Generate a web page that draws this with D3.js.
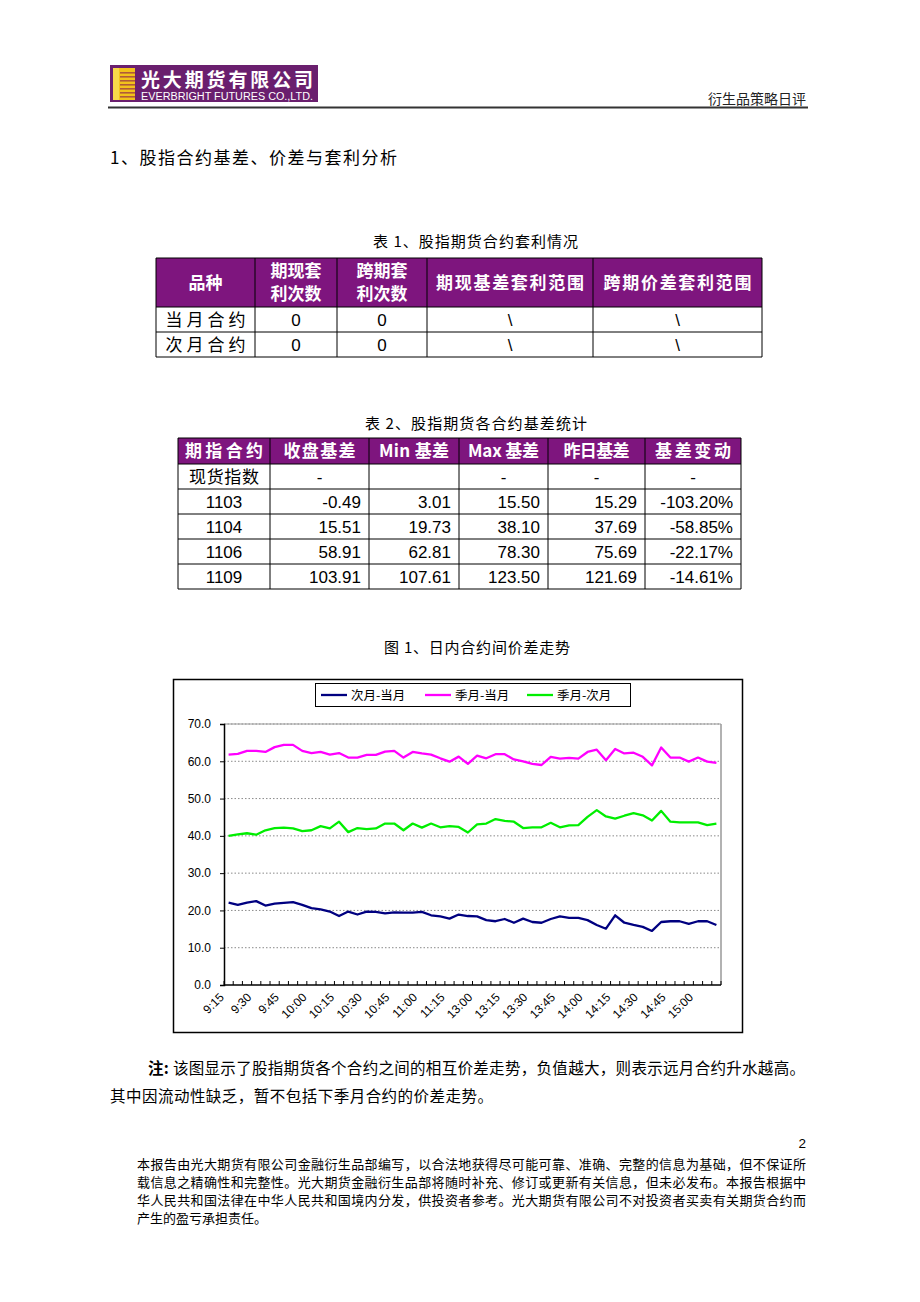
<!DOCTYPE html>
<html><head><meta charset="utf-8">
<script src="https://cdn.jsdelivr.net/npm/d3@7"></script>
<style>
html,body{margin:0;padding:0;background:#fff;}
svg text{font-family:"Noto Sans CJK SC","Liberation Sans",sans-serif;}
</style></head><body>
<svg id="page" width="920" height="1302"></svg>
<script>
// ---------- DATA ----------
const times = ["9:15","9:20","9:25","9:30","9:35","9:40","9:45","9:50","9:55",
  "10:00","10:05","10:10","10:15","10:20","10:25","10:30","10:35","10:40","10:45","10:50","10:55",
  "11:00","11:05","11:10","11:15","11:20","11:25",
  "13:00","13:05","13:10","13:15","13:20","13:25","13:30","13:35","13:40","13:45","13:50","13:55",
  "14:00","14:05","14:10","14:15","14:20","14:25","14:30","14:35","14:40","14:45","14:50","14:55",
  "15:00","15:05","15:10"];
const xTickLabels = ["9:15","9:30","9:45","10:00","10:15","10:30","10:45","11:00","11:15",
  "13:00","13:15","13:30","13:45","14:00","14:15","14:30","14:45","15:00"];
const seriesNames = ["次月-当月","季月-当月","季月-次月"];
const seriesColors = ["#000080","#ff00ff","#00ee00"];
const nextMinusCurrent = [22.1,21.5,22.1,22.5,21.3,21.8,22.0,22.2,21.5,20.6,
  20.3,19.7,18.5,19.7,18.9,19.7,19.6,19.2,19.5,19.4,
  19.4,19.6,18.7,18.4,17.8,18.9,18.5,
  18.4,17.4,17.1,17.7,16.7,17.8,16.9,16.7,17.7,18.4,
  18.0,18.0,17.4,16.1,15.1,18.7,16.7,16.1,15.6,14.5,
  16.9,17.1,17.1,16.4,17.1,17.1,16.1];
const quarterMinusCurrent = [61.8,62.0,62.8,62.8,62.5,63.8,64.4,64.4,62.8,62.2,
  62.5,61.8,62.2,61.0,61.0,61.7,61.7,62.6,62.8,61.0,
  62.5,62.1,61.8,60.8,59.9,61.25,59.3,
  61.5,60.8,61.9,61.9,60.5,60.0,59.3,59.0,61.2,
  60.7,60.9,60.7,62.5,63.1,60.3,63.3,62.1,62.3,61.2,
  58.9,63.7,61.0,61.0,59.9,61.0,59.9,59.6];
const quarterMinusNext = [40.0,40.4,40.7,40.3,41.5,42.1,42.2,42.0,41.25,41.5,
  42.6,42.0,43.8,41.0,42.1,41.8,42.0,43.3,43.3,41.5,
  43.3,42.2,43.3,42.3,42.6,42.4,40.9,
  43.1,43.3,44.5,44.0,43.8,42.1,42.3,42.3,43.5,
  42.3,42.8,42.9,45.1,46.9,45.2,44.6,45.4,46.1,45.5,
  44.1,46.7,43.8,43.6,43.6,43.6,42.9,43.3];
const yTicks = [0,10,20,30,40,50,60,70];

const table1Header = ["品种","期现套|利次数","跨期套|利次数","期现基差套利范围","跨期价差套利范围"];
const table1Rows = [["当月合约","0","0","\\","\\"],["次月合约","0","0","\\","\\"]];
const table2Header = ["期指合约","收盘基差","Min 基差","Max 基差","昨日基差","基差变动"];
const table2Rows = [
  ["现货指数","-","","-","-","-"],
  ["1103","-0.49","3.01","15.50","15.29","-103.20%"],
  ["1104","15.51","19.73","38.10","37.69","-58.85%"],
  ["1106","58.91","62.81","78.30","75.69","-22.17%"],
  ["1109","103.91","107.61","123.50","121.69","-14.61%"]];

const footerLines = [
  "本报告由光大期货有限公司金融衍生品部编写，以合法地获得尽可能可靠、准确、完整的信息为基础，但不保证所",
  "载信息之精确性和完整性。光大期货金融衍生品部将随时补充、修订或更新有关信息，但未必发布。本报告根据中",
  "华人民共和国法律在中华人民共和国境内分发，供投资者参考。光大期货有限公司不对投资者买卖有关期货合约而",
  "产生的盈亏承担责任。"];

// ---------- DRAW ----------
const svg = d3.select("#page");
const PURPLE = "#7e157e";
const NUMFONT = "'Liberation Sans',Arial,sans-serif";

// Header logo
const logo = svg.append("g");
logo.append("rect").attr("x",110).attr("y",65).attr("width",208).attr("height",37).attr("fill","#6a1f6e");
logo.append("rect").attr("x",113).attr("y",68).attr("width",22).attr("height",32).attr("fill","#f2c21b");
[0,1,2,3,4,5,6].forEach(i=>{
  logo.append("rect").attr("x",120).attr("y",72+i*4).attr("width",15).attr("height",1.6).attr("fill","#b05a3a");
});
logo.append("rect").attr("x",113).attr("y",68).attr("width",6).attr("height",32).attr("fill","#f7d84a");
logo.append("text").attr("x",141).attr("y",87).attr("fill","#fff").attr("font-size",19).attr("font-weight","bold")
  .attr("textLength",172).attr("lengthAdjust","spacing").text("光大期货有限公司");
logo.append("text").attr("x",141).attr("y",100).attr("fill","#fff").attr("font-size",10)
  .style("font-family",NUMFONT).attr("textLength",172).attr("lengthAdjust","spacingAndGlyphs")
  .text("EVERBRIGHT FUTURES CO.,LTD.");
svg.append("text").attr("x",806).attr("y",104).attr("text-anchor","end").attr("font-size",14).attr("fill","#222")
  .text("衍生品策略日评");
svg.append("line").attr("x1",108).attr("x2",808).attr("y1",107.5).attr("y2",107.5).attr("stroke","#333").attr("stroke-width",2);

// Section title
svg.append("text").attr("x",110).attr("y",164).attr("font-size",17).attr("fill","#000")
  .attr("textLength",287).attr("lengthAdjust","spacing").text("1、股指合约基差、价差与套利分析");

// Generic table
function drawTable(cols, rowsY, header, body, opt){
  const g = svg.append("g");
  g.append("rect").attr("x",cols[0]).attr("y",rowsY[0]).attr("width",cols[cols.length-1]-cols[0])
    .attr("height",rowsY[1]-rowsY[0]).attr("fill",PURPLE);
  header.forEach((h,i)=>{
    const cx=(cols[i]+cols[i+1])/2, cy=(rowsY[0]+rowsY[1])/2;
    const lines=h.split("|");
    lines.forEach((ln,j)=>{
      const t=g.append("text").attr("x",cx).attr("y",cy+(j-(lines.length-1)/2)*opt.headLine+opt.headSize*0.36)
        .attr("text-anchor","middle").attr("fill","#fff").attr("font-size",opt.headSize).attr("font-weight","bold")
        .text(ln);
      if(opt.headLen && opt.headLen[i]) t.attr("textLength",opt.headLen[i]).attr("lengthAdjust","spacing");
    });
  });
  body.forEach((row,r)=>{
    const y0=rowsY[r+1], y1=rowsY[r+2], cy=(y0+y1)/2;
    row.forEach((v,i)=>{
      if(v==="") return;
      const isNum = /^[-0-9.%\\]+$/.test(v);
      let anchor="middle", x=(cols[i]+cols[i+1])/2;
      if(isNum && opt.rightAlign && i>0 && v!=="-"){anchor="end"; x=cols[i+1]-8;}
      const t=g.append("text").attr("x",x).attr("y",cy+opt.bodySize*0.36).attr("text-anchor",anchor)
        .attr("font-size",isNum?opt.numSize:opt.bodySize).attr("fill","#000").text(v);
      if(isNum) t.style("font-family",NUMFONT);
      if(!isNum && opt.bodyLen) t.attr("textLength",opt.bodyLen).attr("lengthAdjust","spacing");
    });
  });
  rowsY.forEach(y=>g.append("line").attr("x1",cols[0]).attr("x2",cols[cols.length-1]).attr("y1",y).attr("y2",y)
    .attr("stroke","#000").attr("stroke-width",1));
  cols.forEach(x=>g.append("line").attr("x1",x).attr("x2",x).attr("y1",rowsY[0]).attr("y2",rowsY[rowsY.length-1])
    .attr("stroke","#000").attr("stroke-width",1));
}

// Table 1
svg.append("text").attr("x",475.5).attr("y",247).attr("text-anchor","middle").attr("font-size",15)
  .attr("textLength",205).attr("lengthAdjust","spacing").text("表 1、股指期货合约套利情况");
drawTable([156,255,337,427,593,762],[258,307,332,357],table1Header,table1Rows,
  {headSize:17,headLine:23,headLen:[34,0,0,148,148],bodySize:17,bodyLen:80,numSize:17,rightAlign:false});

// Table 2
svg.append("text").attr("x",476).attr("y",429).attr("text-anchor","middle").attr("font-size",15)
  .attr("textLength",222).attr("lengthAdjust","spacing").text("表 2、股指期货各合约基差统计");
drawTable([178,270,369,459,548,645,741],[438,464,489,514,539,564,589],table2Header,table2Rows,
  {headSize:17,headLine:0,headLen:[78,72,70,71,66,76],bodySize:17,bodyLen:70,numSize:17,rightAlign:true});

// Figure title
svg.append("text").attr("x",477).attr("y",653).attr("text-anchor","middle").attr("font-size",15)
  .attr("textLength",186).attr("lengthAdjust","spacing").text("图 1、日内合约间价差走势");

// Chart
svg.append("rect").attr("x",173.5).attr("y",679.5).attr("width",569).attr("height",353)
  .attr("fill","#fff").attr("stroke","#000").attr("stroke-width",1.5);
const L=224,R=721,T=724,B=985;
const x = d3.scaleBand().domain(times).range([L,R]);
const y = d3.scaleLinear().domain([0,70]).range([B,T]);
const cx = t => x(t)+x.bandwidth()/2;
const chart = svg.append("g");
chart.selectAll(".grid").data(yTicks.filter(d=>d>0)).enter().append("line")
  .attr("x1",L).attr("x2",R).attr("y1",d=>y(d)).attr("y2",d=>y(d))
  .attr("stroke","#8a8a8a").attr("stroke-width",1).attr("stroke-dasharray","1.5,2");
chart.append("line").attr("x1",L).attr("x2",R).attr("y1",T).attr("y2",T).attr("stroke","#999").attr("stroke-width",1.2);
chart.append("line").attr("x1",R).attr("x2",R).attr("y1",T).attr("y2",B).attr("stroke","#999").attr("stroke-width",1.5);
const yAxis = chart.append("g").attr("transform",`translate(${L},0)`)
  .call(d3.axisLeft(y).tickValues(yTicks).tickFormat(d3.format(".1f")).tickSize(4).tickPadding(9));
yAxis.select(".domain").attr("stroke","#000").attr("stroke-width",1.5);
yAxis.selectAll("text").style("font-family",NUMFONT).attr("font-size",12).attr("fill","#000");
const xAxis = chart.append("g").attr("transform",`translate(0,${B})`)
  .call(d3.axisBottom(x).tickValues(xTickLabels).tickSize(0).tickPadding(0));
xAxis.select(".domain").remove();
xAxis.selectAll("text").style("font-family",NUMFONT).attr("font-size",12).attr("fill","#000")
  .attr("text-anchor","end").attr("dy",0).attr("y",0)
  .attr("transform","translate(-4,13) rotate(-45)");
chart.append("line").attr("x1",L).attr("x2",R).attr("y1",B).attr("y2",B).attr("stroke","#000").attr("stroke-width",1.5);
chart.selectAll(".xt").data(times.concat(["end"])).enter().append("line")
  .attr("x1",d=>d==="end"?R:x(d)).attr("x2",d=>d==="end"?R:x(d)).attr("y1",B).attr("y2",B-4)
  .attr("stroke","#000").attr("stroke-width",1);
const allSeries=[nextMinusCurrent,quarterMinusCurrent,quarterMinusNext];
const line = d3.line().x((d,i)=>cx(times[i])).y(d=>y(d));
allSeries.forEach((s,k)=>{
  chart.append("path").datum(s).attr("d",line).attr("fill","none").attr("stroke",seriesColors[k])
    .attr("stroke-width",2.3).attr("stroke-linejoin","round");
});
const lg = svg.append("g");
lg.append("rect").attr("x",315.5).attr("y",683.5).attr("width",315).attr("height",23).attr("fill","#fff")
  .attr("stroke","#000").attr("stroke-width",1);
const legX=[321,425,527];
seriesNames.forEach((n,k)=>{
  lg.append("line").attr("x1",legX[k]).attr("x2",legX[k]+26).attr("y1",695).attr("y2",695)
    .attr("stroke",seriesColors[k]).attr("stroke-width",2.3);
  lg.append("text").attr("x",legX[k]+30).attr("y",699.5).attr("font-size",12.5).attr("fill","#000").text(n);
});

// Note text
const note = svg.append("text").attr("x",148).attr("y",1074).attr("font-size",15.5).attr("fill","#000")
  .attr("textLength",657).attr("lengthAdjust","spacing");
note.append("tspan").attr("font-weight","bold").text("注:");
note.append("tspan").text(" 该图显示了股指期货各个合约之间的相互价差走势，负值越大，则表示远月合约升水越高。");
svg.append("text").attr("x",110).attr("y",1102).attr("font-size",15.5).attr("fill","#000")
  .attr("textLength",383).attr("lengthAdjust","spacing").text("其中因流动性缺乏，暂不包括下季月合约的价差走势。");

// Footer
svg.append("text").attr("x",806).attr("y",1148).attr("text-anchor","end").attr("font-size",13.5)
  .style("font-family",NUMFONT).text("2");
const fY=[1169,1187,1205,1223];
footerLines.forEach((t,i)=>{
  const el=svg.append("text").attr("x",137).attr("y",fY[i]).attr("font-size",13).attr("fill","#000").text(t);
  if(i<3) el.attr("textLength",669).attr("lengthAdjust","spacing");
});
</script>
</body></html>
